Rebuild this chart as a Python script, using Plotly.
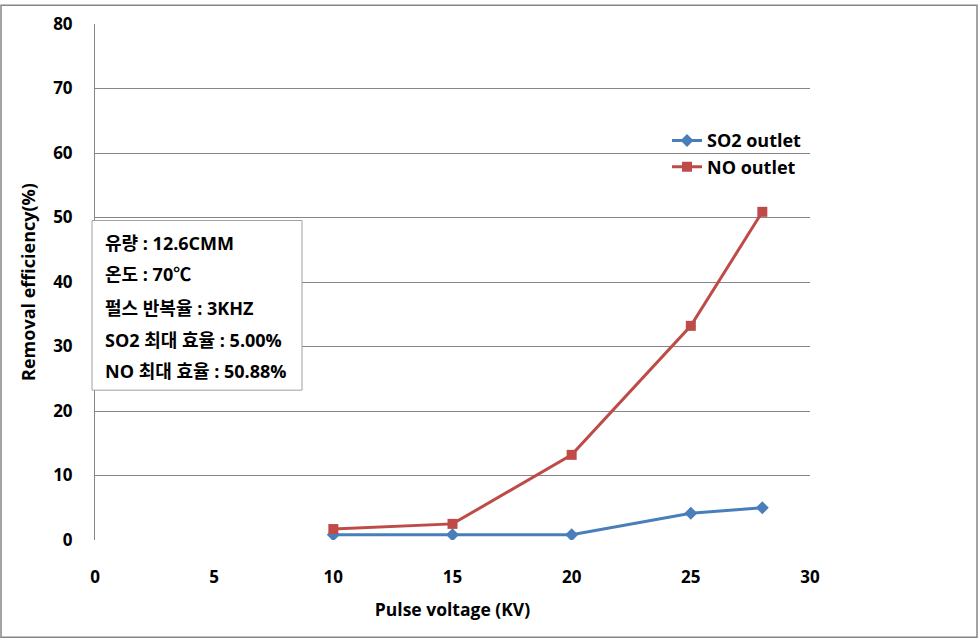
import plotly.graph_objects as go

voltage = [10, 15, 20, 25, 28]
so2_outlet = [0.8, 0.8, 0.8, 4.15, 5.0]
no_outlet = [1.7, 2.5, 13.2, 33.2, 50.88]
x_ticks = [0, 5, 10, 15, 20, 25, 30]
y_ticks = [0, 10, 20, 30, 40, 50, 60, 70, 80]
info_lines = ["유량 : 12.6CMM", "온도 : 70℃", "펄스 반복율 : 3KHZ",
              "SO2 최대 효율 : 5.00%", "NO 최대 효율 : 50.88%"]

FONT = "Open Sans, Noto Sans CJK KR, sans-serif"

fig = go.Figure()
fig.add_trace(go.Scatter(x=voltage, y=so2_outlet, name="<b>SO2 outlet</b>", mode="lines+markers",
                         line=dict(color="#4A7EBB", width=3),
                         marker=dict(symbol="diamond", size=10, color="#4A7EBB")))
fig.add_trace(go.Scatter(x=voltage, y=no_outlet, name="<b>NO outlet</b>", mode="lines+markers",
                         line=dict(color="#BE4B48", width=3),
                         marker=dict(symbol="square", size=10, color="#BE4B48")))

W, H = 980, 641
L, R, T, B = 95, 810, 20, 540
pw, ph = R - L, B - T

def px(x):
    return (x - L) / pw

def py(y):
    return (B - y) / ph

shapes = [
    dict(type="rect", xref="paper", yref="paper", x0=px(1), x1=px(977), y0=py(1), y1=py(638),
         line=dict(color="#868686", width=1.5), fillcolor="rgba(0,0,0,0)", layer="below"),
    dict(type="rect", xref="paper", yref="paper", x0=px(92), x1=px(302), y0=py(218), y1=py(389),
         line=dict(color="#A0A0A0", width=1), fillcolor="white", layer="above"),
]

annotations = []
line_y = [241, 272, 306, 338, 370]
for txt, yy in zip(info_lines, line_y):
    annotations.append(dict(text="<b>" + txt + "</b>", xref="paper", yref="paper",
                            x=px(103), y=py(yy), xanchor="left", yanchor="middle",
                            showarrow=False, font=dict(family=FONT, size=18, color="black")))

fig.update_layout(
    width=W, height=H,
    margin=dict(l=L, r=W - R, t=T, b=H - B),
    paper_bgcolor="white", plot_bgcolor="white",
    font=dict(family=FONT, size=17, color="black"),
    shapes=shapes, annotations=annotations,
    legend=dict(x=px(667), y=py(119), xanchor="left", yanchor="top",
                font=dict(family=FONT, size=18, color="black"),
                bgcolor="rgba(0,0,0,0)", tracegroupgap=0, itemwidth=30),
    showlegend=True,
)
fig.update_xaxes(range=[0, 30], tickvals=x_ticks, ticktext=[f"<b>{v}</b>" for v in x_ticks],
                 showgrid=False, zeroline=False, showline=False,
                 ticks="outside", ticklen=22, tickcolor="rgba(0,0,0,0)",
                 tickfont=dict(size=17),
                 title=dict(text="<b>Pulse voltage (KV)</b>", font=dict(size=17.5), standoff=16))
fig.update_yaxes(range=[0, 80], tickvals=y_ticks, ticktext=[f"<b>{v}</b>" for v in y_ticks],
                 showgrid=True, gridcolor="#868686", gridwidth=1,
                 zeroline=False, showline=True, linecolor="#868686", linewidth=1,
                 ticks="outside", ticklen=18, tickcolor="rgba(0,0,0,0)",
                 tickfont=dict(size=17),
                 title=dict(text="<b>Removal efficiency(%)</b>", font=dict(size=18), standoff=12))

fig.write_html("out.html", config={"displayModeBar": False},
               post_script="document.body.style.margin='0';document.body.style.padding='0';")
